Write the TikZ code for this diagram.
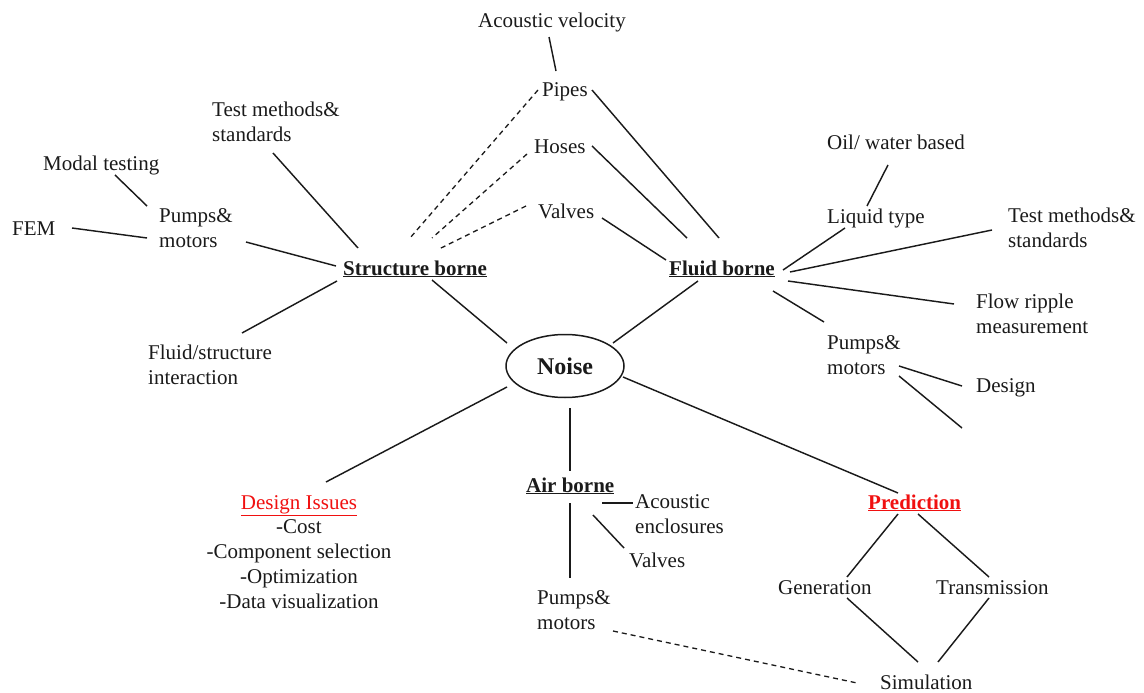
\documentclass[tikz,border=0pt]{standalone}
\usepackage{fontspec}
\setmainfont{Liberation Serif}
\usetikzlibrary{shapes.geometric}
\definecolor{inkc}{HTML}{1A1A1A}
\definecolor{redc}{HTML}{F01010}
\begin{document}
\begin{tikzpicture}[x=1pt,y=-1pt,
  lbl/.style={inner sep=0pt, text=inkc, font=\fontsize{21}{25}\selectfont},
  lblb/.style={lbl, anchor=base west},
  multi/.style={lbl, anchor=west, align=left},
  hdr/.style={lbl, anchor=base west, font=\fontsize{21}{25}\selectfont\bfseries},
  conn/.style={draw=inkc, line width=1.45pt},
  dconn/.style={conn, line width=1.3pt, dash pattern=on 5pt off 4pt}]
\useasboundingbox (0,0) rectangle (1144,693);

% ---- nodes ----
\node[draw=inkc, line width=1.5pt, ellipse, minimum width=118, minimum height=63, inner sep=0pt,
      font=\fontsize{24}{28}\selectfont\bfseries, text=inkc] (noise) at (565,366) {Noise};

\node[lblb] (acv) at (478,28) {Acoustic velocity};
\node[lblb] (pipes) at (542,96) {Pipes};
\node[lblb] (hoses) at (534,153) {Hoses};
\node[lblb] (valvesT) at (538,218) {Valves};
\node[hdr] (sb) at (343,275) {\underline{Structure borne}};
\node[hdr] (fb) at (669,275) {\underline{Fluid borne}};

\node[multi] (tmL) at (212,122) {Test methods\&\\standards};
\node[lblb] (modal) at (43,170) {Modal testing};
\node[lblb] (fem) at (12,235) {FEM};
\node[multi] (pumpsL) at (159,228.5) {Pumps\&\\motors};
\node[multi] (fsi) at (148,365) {Fluid/structure\\interaction};

\node[lblb] (oil) at (827,149) {Oil/ water based};
\node[lblb] (liquid) at (827,223) {Liquid type};
\node[multi] (tmR) at (1008,228) {Test methods\&\\standards};
\node[multi] (frm) at (976,313.5) {Flow ripple\\measurement};
\node[multi] (pumpsR) at (827,355.5) {Pumps\&\\motors};
\node[lblb] (design) at (976,392) {Design};

\node[lbl, anchor=base, text=redc] (dis) at (299,509) {\underline{Design Issues}};
\node[lbl, align=center, anchor=north] (dislist) at (299,519.5) {-Cost\\-Component selection\\-Optimization\\-Data visualization};

\node[hdr] (ab) at (526,492) {\underline{Air borne}};
\node[multi] (pumpsA) at (537,610.5) {Pumps\&\\motors};
\node[multi] (acenc) at (635,514.5) {Acoustic\\enclosures};
\node[lblb] (valvesA) at (629,567) {Valves};

\node[hdr, text=redc] (pred) at (868,509) {\underline{Prediction}};
\node[lblb] (gen) at (778,594) {Generation};
\node[lblb] (trans) at (936,594) {Transmission};
\node[lblb] (sim) at (880,689) {Simulation};

% ---- connector end points ----
\coordinate (acv-s) at (549,37);   \coordinate (pipes-n) at (556,71);
\coordinate (pipes-e) at (592,90); \coordinate (fb-n1) at (719,238);
\coordinate (pipes-w) at (538,90); \coordinate (sb-n1) at (410,238);
\coordinate (hoses-e) at (592,146); \coordinate (fb-n2) at (687,238);
\coordinate (hoses-w) at (527,154); \coordinate (sb-n2) at (432,238);
\coordinate (valvesT-e) at (602,218); \coordinate (fb-nw) at (666,260);
\coordinate (valvesT-w) at (526,206); \coordinate (sb-n3) at (439,249);
\coordinate (sb-se) at (432,280); \coordinate (noise-nw) at (507,343);
\coordinate (fb-sw) at (698,281); \coordinate (noise-ne) at (613,343);
\coordinate (tmL-s) at (273,153); \coordinate (sb-nw) at (358,248);
\coordinate (modal-s) at (115,175); \coordinate (pumpsL-nw) at (147,206);
\coordinate (fem-e) at (72,228); \coordinate (pumpsL-w) at (147,238);
\coordinate (pumpsL-e) at (246,242); \coordinate (sb-w) at (336,266);
\coordinate (sb-sw) at (337,281); \coordinate (fsi-n) at (242,333);
\coordinate (oil-s) at (888,165); \coordinate (liquid-n) at (867,206);
\coordinate (liquid-s) at (845,228); \coordinate (fb-ne) at (783,270);
\coordinate (fb-e1) at (790,272); \coordinate (tmR-w) at (992,230);
\coordinate (fb-e2) at (788,281); \coordinate (frm-w) at (954,304);
\coordinate (fb-se) at (773,291); \coordinate (pumpsR-n) at (824,322);
\coordinate (pumpsR-e1) at (899,366); \coordinate (design-w) at (962,386);
\coordinate (pumpsR-e2) at (899,376); \coordinate (free-end) at (962,428);
\coordinate (noise-sw) at (507,387); \coordinate (dis-n) at (326,482);
\coordinate (noise-s) at (570,408); \coordinate (ab-n) at (570,471);
\coordinate (ab-s) at (570,503); \coordinate (pumpsA-n) at (570,578);
\coordinate (ab-e) at (602,503); \coordinate (acenc-w) at (633,503);
\coordinate (ab-se) at (593,515); \coordinate (valvesA-nw) at (624,548);
\coordinate (pumpsA-e) at (613,631); \coordinate (sim-w) at (857,683);
\coordinate (noise-se) at (623,377); \coordinate (pred-n) at (898,493);
\coordinate (pred-sw) at (898,514); \coordinate (gen-ne) at (847,577);
\coordinate (pred-se) at (918,514); \coordinate (trans-nw) at (989,577);
\coordinate (gen-s) at (847,598); \coordinate (sim-nw) at (918,662);
\coordinate (trans-s) at (989,598); \coordinate (sim-ne) at (938,662);

% ---- connectors ----
\draw[conn] (acv-s) -- (pipes-n);
\draw[conn] (pipes-e) -- (fb-n1);
\draw[dconn] (pipes-w) -- (sb-n1);
\draw[conn] (hoses-e) -- (fb-n2);
\draw[dconn] (hoses-w) -- (sb-n2);
\draw[conn] (valvesT-e) -- (fb-nw);
\draw[dconn] (valvesT-w) -- (sb-n3);
\draw[conn] (sb-se) -- (noise-nw);
\draw[conn] (fb-sw) -- (noise-ne);
\draw[conn] (tmL-s) -- (sb-nw);
\draw[conn] (modal-s) -- (pumpsL-nw);
\draw[conn] (fem-e) -- (pumpsL-w);
\draw[conn] (pumpsL-e) -- (sb-w);
\draw[conn] (sb-sw) -- (fsi-n);
\draw[conn] (oil-s) -- (liquid-n);
\draw[conn] (liquid-s) -- (fb-ne);
\draw[conn] (fb-e1) -- (tmR-w);
\draw[conn] (fb-e2) -- (frm-w);
\draw[conn] (fb-se) -- (pumpsR-n);
\draw[conn] (pumpsR-e1) -- (design-w);
\draw[conn] (pumpsR-e2) -- (free-end);
\draw[conn] (noise-sw) -- (dis-n);
\draw[conn] (noise-s) -- (ab-n);
\draw[conn] (ab-s) -- (pumpsA-n);
\draw[conn] (ab-e) -- (acenc-w);
\draw[conn] (ab-se) -- (valvesA-nw);
\draw[dconn] (pumpsA-e) -- (sim-w);
\draw[conn] (noise-se) -- (pred-n);
\draw[conn] (pred-sw) -- (gen-ne);
\draw[conn] (pred-se) -- (trans-nw);
\draw[conn] (gen-s) -- (sim-nw);
\draw[conn] (trans-s) -- (sim-ne);
\end{tikzpicture}
\end{document}
